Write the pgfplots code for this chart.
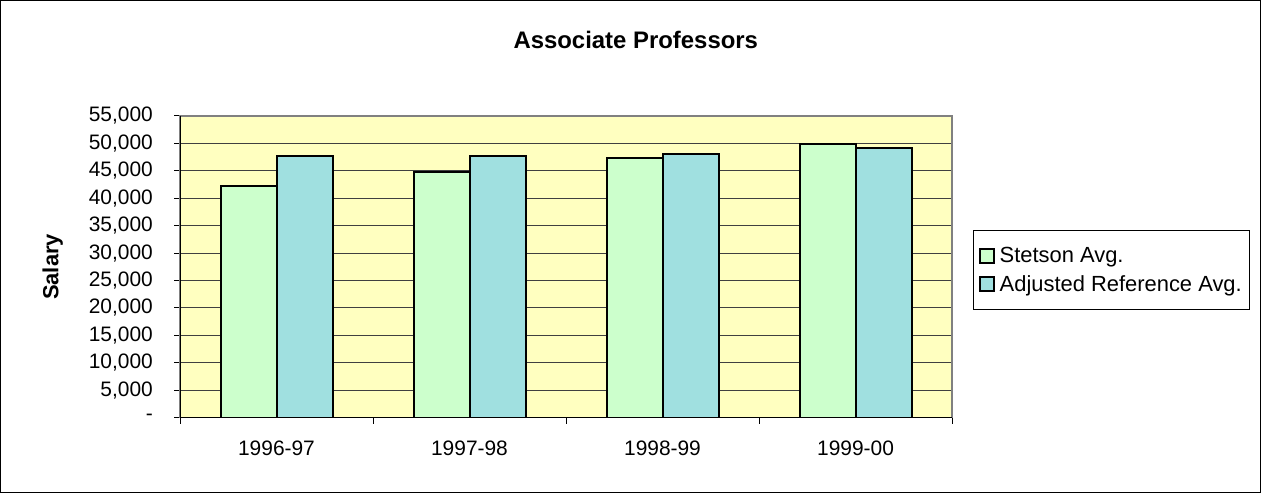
\documentclass[border=0pt]{standalone}
\usepackage{pgfplots}
\pgfplotsset{compat=1.18}
\usepackage{fontspec}
\setmainfont{Liberation Sans}
\definecolor{bgyellow}{HTML}{FFFFC0}
\definecolor{stetson}{HTML}{CCFFCC}
\definecolor{refc}{HTML}{A0E0E0}
\begin{document}
\begin{tikzpicture}[x=1bp,y=1bp]
\useasboundingbox (0,0) rectangle (1261,493);
\draw[black, line width=1bp] (0.5,0.5) rectangle (1260.5,492.5);
\node[anchor=base, font=\fontsize{24}{28}\selectfont\bfseries] at (635.8,444.7) {Associate Professors};
\node[rotate=90, anchor=base, font=\fontsize{22}{26}\selectfont\bfseries] at (58.3,226) {Salary};
\begin{axis}[
  at={(180bp,75.3bp)}, anchor=south west,
  scale only axis, width=772bp, height=301.7bp,
  ybar=0pt, bar width=56bp,
  xmin=-0.5, xmax=3.5, ymin=0, ymax=55000,
  xtick={0,1,2,3}, xticklabels={1996-97,1997-98,1998-99,1999-00},
  minor xtick={-0.5,0.5,1.5,2.5,3.5},
  ytick={0,5000,10000,15000,20000,25000,30000,35000,40000,45000,50000,55000},
  yticklabels={{-\hspace{24bp}},{5,000},{10,000},{15,000},{20,000},{25,000},{30,000},{35,000},{40,000},{45,000},{50,000},{55,000}},
  scaled y ticks=false,
  xtick pos=bottom, ytick pos=left,
  tick align=outside,
  major tick length=6bp, minor tick length=6bp,
  major x tick style={draw=none},
  minor x tick style={draw=black, line width=1bp},
  y tick style={draw=black, line width=1bp},
  tick label style={font=\fontsize{21}{25}\selectfont, inner sep=0pt},
  yticklabel style={anchor=east, xshift=-21bp},
  xticklabel style={anchor=north, yshift=-17bp},
  axis background/.style={fill=bgyellow},
  ymajorgrids, grid style={black!75, line width=1bp},
  axis line style={draw=gray, line width=1.5bp},
  legend style={at={(1.0268,0.622)}, anchor=north west, draw=black, line width=1bp,
    font=\fontsize{22}{26}\selectfont, inner xsep=6bp, inner ysep=15bp,
    nodes={inner sep=2bp}, row sep=7bp,
    /tikz/every odd column/.append style={column sep=3bp}},
  legend cell align=left,
  legend image code/.code={\draw[#1, draw=black, line width=1.5bp] (0bp,-7bp) rectangle (14bp,7bp);},
]
\addplot[fill=stetson, draw=black, line width=2bp] coordinates {(0,42300) (1,44800) (2,47400) (3,49900)};
\addplot[fill=refc, draw=black, line width=2bp] coordinates {(0,47700) (1,47700) (2,48100) (3,49200)};
\legend{Stetson Avg.\hspace{4bp}, Adjusted Reference Avg.\hspace{4bp}}
\draw[black, line width=1.5bp] (rel axis cs:0,1) -- (rel axis cs:0,0) -- (rel axis cs:1,0);
\end{axis}
\end{tikzpicture}
\end{document}
